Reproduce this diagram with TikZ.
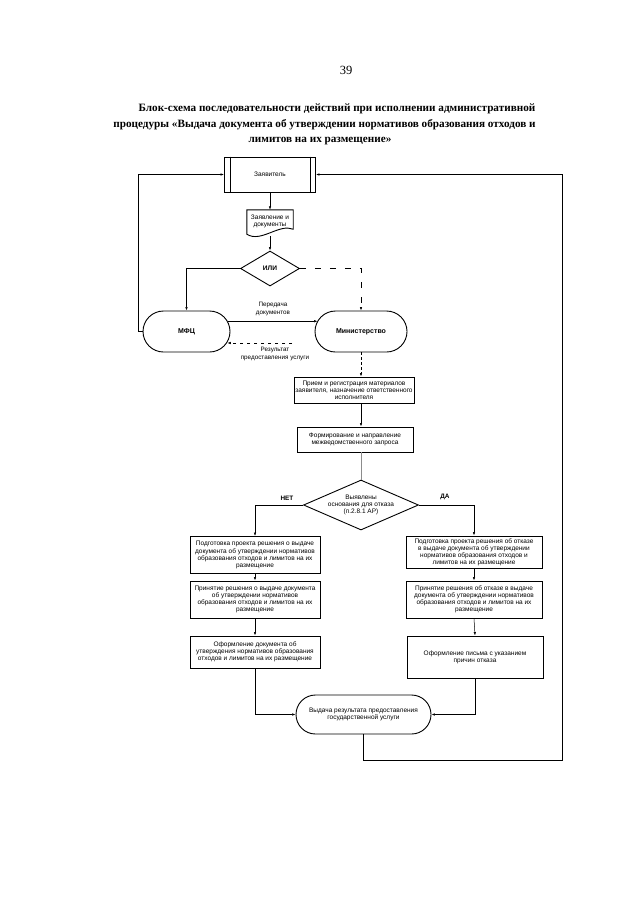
\documentclass[tikz,border=0pt]{standalone}
\usepackage{fontspec}
\setmainfont{Liberation Serif}
\newfontfamily\boxfont{Liberation Sans}
\usetikzlibrary{shapes.geometric,shapes.misc,arrows.meta}

\begin{document}
\begin{tikzpicture}[x=1pt,y=-1pt,
  txt/.style={font=\boxfont\fontsize{6.5}{7.1}\selectfont, align=center, inner sep=0pt},
  block/.style n args={2}{txt, draw, line width=0.9pt, minimum width=#1, minimum height=#2},
  term/.style n args={2}{txt, draw, rounded rectangle, line width=0.9pt, minimum width=#1, minimum height=#2},
  choice/.style n args={3}{txt, draw, diamond, aspect=#3, line width=0.9pt, minimum width=#1, minimum height=#2},
  arr/.style={-{Latex[length=3.5pt,width=2.4pt]}, line width=0.5pt},
  lbl/.style={txt, font=\boxfont\fontsize{6.3}{7.3}\selectfont}]

\useasboundingbox (0,0) rectangle (640,905);

% page number and heading
\node[font=\fontsize{12.5}{14}\selectfont] (page) at (346,70) {39};
\node[font=\bfseries\fontsize{11.2}{13}\selectfont] (head1) at (337,109) {Блок-схема последовательности действий при исполнении административной};
\node[font=\bfseries\fontsize{11.2}{13}\selectfont] (head2) at (324.5,125) {процедуры «Выдача документа об утверждении нормативов образования отходов и};
\node[font=\bfseries\fontsize{11.2}{13}\selectfont] (head3) at (320,141) {лимитов на их размещение»};

% applicant (predefined process)
\node[block={91}{35}] (zayav) at (270,174.5) {Заявитель};
\draw[line width=0.5pt] ([xshift=6]zayav.north west) -- ([xshift=6]zayav.south west);
\draw[line width=0.5pt] ([xshift=-6]zayav.north east) -- ([xshift=-6]zayav.south east);

% document shape
\node[txt, minimum width=46, minimum height=22] (doc) at (270,221) {Заявление и\\документы};
\draw[line width=0.9pt] (doc.north west) -- (doc.north east) -- ([yshift=3]doc.south east)
  .. controls ([xshift=-14,yshift=9]doc.south east) and ([xshift=14,yshift=-11]doc.south west)
  .. ([yshift=-2]doc.south west) -- cycle;

\node[choice={59}{35}{1.7}, font=\boxfont\bfseries\fontsize{6.6}{7}\selectfont] (ili) at (270,268.5) {ИЛИ};

\node[term={87}{41}, font=\boxfont\bfseries\fontsize{7}{8}\selectfont] (mfc) at (186.5,331.5) {МФЦ};
\node[term={92}{41}, font=\boxfont\bfseries\fontsize{7}{8}\selectfont] (min) at (361,331.5) {Министерство};

\node[block={120}{26}] (priem) at (354,390) {Прием и регистрация материалов\\заявителя, назначение ответственного\\исполнителя};
\node[block={116}{25}] (form) at (355,439.5) {Формирование и направление\\межведомственного запроса};

\node[choice={115}{50}{2.3}] (razv) at (361,505) {Выявлены\\основания  для отказа\\(п.2.8.1 АР)};

% left branch
\node[block={130}{37}] (l1) at (255,555) {Подготовка проекта решения о выдаче\\документа об утверждении нормативов\\образования отходов и лимитов на их\\размещение};
\node[block={130}{37}] (l2) at (255,599.5) {Принятие решения о  выдаче документа\\об утверждении нормативов\\образования отходов и лимитов на их\\размещение};
\node[block={130}{32}] (l3) at (255,652) {Оформление документа об\\утверждения нормативов образования\\отходов и лимитов на их размещение};

% right branch
\node[block={136}{32}] (r1) at (474,552) {Подготовка проекта решения  об отказе\\в выдаче документа об утверждении\\нормативов образования отходов и\\лимитов на их размещение};
\node[block={136}{37}] (r2) at (474,599.5) {Принятие решения об отказе в выдаче\\документа об утверждении нормативов\\образования отходов и лимитов на их\\размещение};
\node[block={136}{42}] (r3) at (475,657) {Оформление письма с указанием\\причин отказа};

\node[term={135}{39}] (vyd) at (363.5,714.5) {Выдача результата предоставления\\государственной услуги};

% connectors
\draw[arr] (zayav.south) -- (doc.north);
\draw[arr] ([yshift=-4]doc.south) -- (ili.north);
\draw[arr] (ili.west) -| (mfc.north);
\draw[arr, dash pattern=on 6pt off 9pt] (ili.east) -| (min.north);

\draw[arr] (mfc.14) -- (min.166 |- mfc.14);
\node[lbl] (pered) at (273,309) {Передача\\документов};
\coordinate (resstart) at (292,343);
\draw[arr, dash pattern=on 3pt off 4pt] (resstart) -- (mfc.-15 |- resstart);
\node[lbl] (rez) at (275,354) {Результат\\предоставления услуги};

\draw[arr] (mfc.west) -- ++(-4,0) |- (zayav.west);
\coordinate (rloop) at (562,760);
\draw[arr] (vyd.south) |- (rloop) |- (zayav.east);

\draw[arr, dash pattern=on 3pt off 2pt] (min.south) -- (min.south |- priem.north);
\draw[arr] (min.south |- priem.south) -- (min.south |- form.north);
\draw[line width=0.5pt, black!45] (min.south |- form.south) -- (razv.north);

\draw[arr] (razv.west) -| (l1.north);
\draw[arr] (razv.east) -| (r1.north);
\node[lbl, font=\boxfont\bfseries\fontsize{6.4}{7}\selectfont] (net) at (287,498) {НЕТ};
\node[lbl, font=\boxfont\bfseries\fontsize{6.4}{7}\selectfont] (da) at (445,497) {ДА};

\draw[arr] (l1.south) -- (l2.north);
\draw[arr] (l2.south) -- (l3.north);
\draw[arr] (r1.south) -- (r2.north);
\draw[arr] (r2.south) -- (r3.north);
\draw[arr] (l3.south) |- (vyd.west);
\draw[arr] (r3.south) |- (vyd.east);

\end{tikzpicture}
\end{document}
